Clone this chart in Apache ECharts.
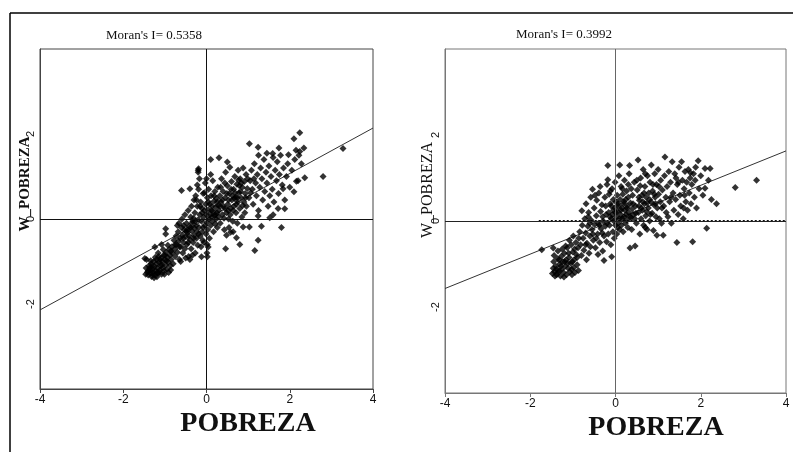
<!DOCTYPE html>
<html>
<head>
<meta charset="utf-8">
<script src="https://cdn.jsdelivr.net/npm/echarts@6/dist/echarts.min.js"></script>
<style>
html,body{margin:0;padding:0;background:#fff;}
#c{width:793px;height:452px;}
</style>
</head>
<body>
<div id="c"></div>
<script>
// ---- Data ----
const titles = ["Moran's I= 0.5358", "Moran's I= 0.3992"];
const xName = "POBREZA";
const yName = "W_POBREZA";
const xTicks = [-4, -2, 0, 2, 4];
const yTicks = [-2, 0, 2];

// Left panel points [POBREZA, W_POBREZA]
const leftPoints = [
// lower-left cluster
[-1.45,-1.15],[-1.42,-1.25],[-1.40,-1.32],[-1.38,-1.10],[-1.36,-1.20],[-1.35,-1.28],[-1.33,-1.05],[-1.32,-1.35],[-1.30,-1.18],[-1.28,-1.25],
[-1.27,-1.00],[-1.25,-1.12],[-1.24,-1.32],[-1.22,-1.22],[-1.20,-0.95],[-1.20,-1.05],[-1.18,-1.15],[-1.17,-1.28],[-1.15,-0.88],[-1.14,-1.02],
[-1.12,-1.20],[-1.10,-1.10],[-1.09,-0.92],[-1.08,-1.30],[-1.06,-1.00],[-1.05,-1.15],[-1.03,-0.85],[-1.02,-1.22],[-1.00,-0.96],[-0.98,-1.08],
[-0.97,-0.78],[-0.95,-1.18],[-0.94,-0.90],[-0.92,-1.02],[-0.90,-0.72],[-0.88,-0.85],[-0.87,-1.10],[-0.85,-0.95],[-0.83,-0.65],[-0.82,-0.80],
[-1.44,-0.95],[-1.40,-1.22],[-1.31,-1.12],[-1.26,-1.38],[-1.19,-1.36],[-1.13,-1.25],[-1.07,-1.08],[-1.01,-1.30],[-0.96,-0.98],[-0.91,-1.26],
[-1.46,-1.30],[-1.34,-0.98],[-1.23,-0.90],[-1.16,-0.80],[-1.04,-0.72],[-0.93,-0.62],[-0.86,-1.20],[-0.80,-1.05],[-1.48,-0.93],[-1.24,-0.66],
[-0.98,-0.23],[-0.98,-0.35],[-1.08,-0.60],[-0.85,-0.75],[-1.00,-0.85],[-1.12,-0.95],[-1.18,-1.25],[-1.29,-1.30],[-1.37,-1.15],
// middle-left
[-0.78,-0.50],[-0.76,-0.70],[-0.75,-0.88],[-0.73,-0.40],[-0.72,-0.60],[-0.70,-0.78],[-0.68,-0.30],[-0.67,-0.52],[-0.65,-0.95],[-0.63,-0.45],
[-0.62,-0.65],[-0.60,-0.20],[-0.58,-0.38],[-0.57,-0.80],[-0.55,-0.55],[-0.53,-0.25],[-0.52,-0.70],[-0.50,-0.42],[-0.48,-0.10],[-0.47,-0.60],
[-0.45,-0.32],[-0.43,-0.88],[-0.42,-0.18],[-0.40,-0.48],[-0.38,0.05],[-0.37,-0.70],[-0.35,-0.28],[-0.33,-0.05],[-0.32,-0.55],[-0.30,-0.38],
[-0.28,0.15],[-0.27,-0.80],[-0.25,-0.15],[-0.24,-0.45],[-0.22,0.30],[-0.21,-0.62],[-0.20,-0.02],[-0.66,-0.10],[-0.59,0.00],[-0.52,0.10],
[-0.44,0.20],[-0.36,0.30],[-0.30,0.45],[-0.26,0.55],[-0.62,-1.00],[-0.50,-0.92],[-0.40,-0.95],[-0.34,-0.85],[-0.70,-0.15],[-0.46,-0.25],
[-0.29,-0.22],[-0.23,-0.30],[-0.55,-0.15],[-0.42,-0.40],[-0.60,0.67],[-0.40,0.71],[-0.65,-0.65],[-0.56,-0.45],[-0.49,-0.30],[-0.44,-0.55],
[-0.38,-0.20],[-0.31,-0.45],[-0.19,-0.35],[-0.08,-0.20],[-0.75,-0.60],[-0.35,-0.10],[-0.31,0.02],[-0.27,-0.05],
// around the origin
[-0.18,-0.20],[-0.16,0.10],[-0.15,-0.40],[-0.14,0.40],[-0.12,-0.05],[-0.11,0.25],[-0.10,-0.30],[-0.08,0.60],[-0.07,0.05],[-0.06,-0.55],
[-0.05,0.20],[-0.04,-0.15],[-0.03,0.85],[-0.02,0.35],[-0.01,-0.35],[0.00,0.10],[0.01,-0.08],[0.02,0.50],[0.03,-0.25],[0.04,0.22],
[0.05,0.70],[0.06,0.00],[0.07,-0.45],[0.08,0.35],[0.09,0.12],[0.10,-0.15],[0.11,0.55],[0.12,0.05],[0.13,0.30],[0.14,-0.05],
[0.15,0.90],[0.16,0.18],[0.17,-0.30],[0.18,0.42],[0.19,0.08],[0.20,0.65],[0.21,-0.12],[0.22,0.28],[0.23,0.00],[0.24,0.48],
[0.25,0.15],[0.26,-0.20],[0.27,0.75],[0.28,0.32],[0.29,0.05],[-0.19,0.70],[-0.17,0.95],[-0.13,-0.65],[-0.09,-0.50],[-0.20,1.10],
[-0.19,1.18],[0.02,-0.60],[0.01,-0.80],[0.00,0.95],[-0.05,0.62],[0.10,1.05],[-0.22,0.80],[-0.24,0.45],[0.02,-0.89],[-0.12,-0.89],
[0.04,-0.66],[0.10,1.40],[0.30,1.44],[-0.20,1.15],[-0.15,0.30],[-0.10,0.15],[0.05,0.40],[0.12,0.20],[0.18,0.55],[0.22,0.10],
[0.26,0.40],
// middle-right
[0.30,0.20],[0.32,0.55],[0.33,-0.10],[0.35,0.40],[0.36,0.95],[0.38,0.10],[0.40,0.65],[0.41,0.30],[0.43,-0.25],[0.45,0.50],
[0.46,1.10],[0.48,0.15],[0.50,0.78],[0.51,0.35],[0.53,0.00],[0.55,0.60],[0.56,1.22],[0.58,0.25],[0.60,0.88],[0.61,0.45],
[0.63,-0.05],[0.65,0.70],[0.66,0.30],[0.68,1.00],[0.70,0.52],[0.71,0.15],[0.73,0.82],[0.75,0.40],[0.76,1.15],[0.78,0.62],
[0.80,0.25],[0.81,0.95],[0.83,0.50],[0.85,0.05],[0.86,0.75],[0.88,1.20],[0.90,0.40],[0.91,0.88],[0.93,0.60],[0.95,1.05],
[0.96,0.30],[0.98,0.72],[0.34,0.75],[0.44,0.85],[0.52,0.20],[0.62,0.55],[0.72,0.35],[0.82,0.65],[0.92,0.15],[0.54,-0.20],
[0.64,-0.30],[0.74,-0.10],[0.42,0.02],[0.57,0.10],[0.67,0.48],[0.77,0.92],[0.87,0.32],[0.50,1.34],[0.58,-0.31],[0.48,-0.38],
[0.46,-0.70],[0.72,-0.44],[0.80,-0.60],[0.88,-0.19],[0.33,0.30],[0.38,0.45],[0.44,0.25],[0.49,0.60],[0.53,0.45],[0.59,0.70],
[0.64,0.20],[0.69,0.62],[0.74,0.50],[0.79,0.78],[0.84,0.85],[0.94,0.50],[0.99,0.95],
// upper-right
[1.02,0.50],[1.05,0.90],[1.08,1.15],[1.10,0.70],[1.12,0.35],[1.15,1.30],[1.18,0.85],[1.20,0.55],[1.22,1.05],[1.25,0.20],
[1.28,0.75],[1.30,1.20],[1.33,0.95],[1.35,0.45],[1.38,1.40],[1.40,0.65],[1.43,1.10],[1.45,0.85],[1.48,0.30],[1.50,1.25],
[1.52,0.55],[1.55,1.00],[1.58,0.70],[1.60,1.45],[1.62,0.40],[1.65,1.15],[1.68,0.90],[1.70,1.35],[1.73,0.60],[1.75,1.05],
[1.78,1.50],[1.82,0.80],[1.85,1.20],[1.88,0.45],[1.92,1.00],[1.95,1.30],[2.00,0.75],[2.05,1.15],[2.12,1.40],[2.20,0.90],
[2.28,1.30],[1.25,1.50],[1.45,1.55],[1.60,0.10],[1.72,0.25],[2.15,1.62],[1.06,0.62],[1.14,0.95],
[2.24,2.03],[2.10,1.89],[1.03,1.77],[1.24,1.69],[1.74,1.67],[2.34,1.67],[2.24,1.59],[2.22,1.50],[1.59,1.54],[1.97,1.51],
[2.80,1.00],[2.36,0.97],[2.16,0.89],[2.10,0.64],[1.84,0.71],[1.88,0.24],[1.80,-0.20],[1.24,-0.50],[1.16,-0.74],[1.03,-0.19],
[1.32,-0.17],[1.52,0.03],[1.24,0.07],[3.28,1.66]
];

// Right panel points [POBREZA, W_POBREZA]
const rightPoints = [
// lower-left cluster
[-1.48,-1.22],[-1.46,-1.10],[-1.45,-0.95],[-1.44,-0.80],[-1.43,-1.18],[-1.40,-1.05],[-1.38,-1.25],[-1.36,-0.88],[-1.35,-0.70],[-1.33,-1.15],
[-1.31,-1.00],[-1.29,-1.28],[-1.27,-0.82],[-1.26,-1.12],[-1.24,-0.95],[-1.22,-1.20],[-1.20,-0.75],[-1.18,-1.05],[-1.16,-0.90],[-1.15,-1.25],
[-1.13,-0.62],[-1.11,-1.10],[-1.09,-0.85],[-1.07,-1.18],[-1.05,-0.98],[-1.04,-0.55],[-1.02,-1.25],[-1.00,-0.72],[-0.98,-1.08],[-0.97,-0.90],
[-0.95,-1.20],[-0.93,-0.50],[-0.92,-0.78],[-0.90,-1.02],[-0.88,-0.62],[-0.87,-1.15],[-0.86,-0.40],[-1.42,-1.28],[-1.34,-1.20],[-1.28,-1.05],
[-1.21,-1.30],[-1.12,-0.98],[-1.03,-1.12],[-0.96,-0.65],[-1.17,-0.58],[-1.08,-0.45],[-1.25,-0.65],[-1.46,-0.63],[-1.73,-0.67],[-0.99,-0.35],
[-0.90,-0.85],[-1.10,-0.75],[-1.19,-0.95],[-1.32,-0.90],[-1.39,-1.12],[-1.01,-0.95],
// middle-left
[-0.84,-0.25],[-0.82,-0.55],[-0.80,-0.80],[-0.79,0.24],[-0.78,-0.10],[-0.76,-0.40],[-0.74,-0.68],[-0.72,0.05],[-0.70,-0.28],[-0.69,0.40],
[-0.67,-0.52],[-0.65,-0.12],[-0.63,0.20],[-0.62,-0.75],[-0.60,-0.35],[-0.58,0.55],[-0.57,0.02],[-0.55,-0.20],[-0.54,0.74],[-0.52,-0.45],
[-0.50,0.30],[-0.49,-0.08],[-0.47,-0.62],[-0.45,0.12],[-0.44,0.48],[-0.42,-0.30],[-0.40,-0.05],[-0.39,0.65],[-0.37,-0.50],[-0.35,0.22],
[-0.34,-0.18],[-0.32,0.38],[-0.30,-0.70],[-0.29,0.00],[-0.27,-0.35],[-0.27,-0.92],[-0.25,0.55],[-0.24,-0.12],[-0.22,0.15],[-0.21,-0.48],
[-0.20,0.85],[-0.68,-0.90],[-0.59,-0.60],[-0.48,0.60],[-0.41,-0.78],[-0.36,0.80],[-0.31,-0.28],[-0.23,0.35],[-0.53,-0.30],[-0.64,0.10],
[-0.30,0.10],[-0.45,-0.40],[-0.38,-0.10],[-0.60,-0.05],[-0.70,-0.55],
// around the origin
[-0.18,1.29],[-0.18,0.96],[-0.17,-0.30],[-0.16,0.20],[-0.15,0.62],[-0.14,-0.10],[-0.12,0.40],[-0.11,-0.55],[-0.10,0.05],[-0.09,-0.83],
[-0.08,0.75],[-0.07,0.15],[-0.06,-0.25],[-0.05,0.50],[-0.04,0.00],[-0.03,-0.40],[-0.02,0.30],[-0.01,0.90],[0.00,-0.10],[0.01,0.45],
[0.02,0.10],[0.03,-0.30],[0.04,0.60],[0.05,0.22],[0.06,-0.05],[0.07,0.35],[0.08,1.05],[0.09,0.05],[0.10,1.30],[0.10,-0.20],
[0.11,0.50],[0.12,0.15],[0.13,0.80],[0.14,-0.10],[0.15,0.30],[0.16,0.05],[0.17,0.62],[0.18,-0.25],[0.19,0.40],[0.20,0.10],
[0.21,0.95],[0.22,0.25],[0.23,-0.05],[0.24,0.50],[0.25,0.15],[0.26,0.70],[0.27,0.02],[0.28,0.35],[0.29,-0.15],[0.30,0.55],
[0.31,0.20],[0.32,1.10],[0.33,1.29],[0.34,-0.63],[0.35,0.42],[0.36,0.08],[0.37,0.75],[0.38,-0.20],[0.39,0.28],[-0.13,0.10],
[-0.05,0.25],[0.05,-0.15],[-0.20,-0.05],[-0.10,0.35],[0.00,0.20],[0.06,0.40],[0.13,0.25],[0.20,0.45],[0.27,0.30],[0.34,0.10],
[0.16,0.75],[-0.12,0.70],[0.30,0.85],
// middle-right
[0.40,0.60],[0.42,0.15],[0.44,0.90],[0.46,-0.58],[0.47,0.35],[0.49,-0.05],[0.51,0.72],[0.53,1.42],[0.54,0.20],[0.56,0.48],
[0.57,-0.30],[0.59,1.00],[0.60,0.05],[0.62,0.60],[0.63,0.25],[0.65,1.20],[0.66,-0.10],[0.68,0.40],[0.69,0.80],[0.71,0.12],
[0.72,0.55],[0.74,-0.20],[0.75,1.05],[0.77,0.30],[0.78,0.65],[0.80,0.00],[0.81,0.90],[0.83,0.45],[0.84,1.30],[0.86,0.18],
[0.87,0.70],[0.89,-0.22],[0.90,0.38],[0.92,1.10],[0.93,0.55],[0.95,0.10],[0.96,0.85],[0.97,-0.33],[0.98,0.30],[1.00,1.20],
[1.01,0.62],[1.03,0.05],[1.05,0.45],[1.06,0.95],[1.08,-0.05],[1.10,0.72],[1.12,-0.33],[1.13,0.35],[1.15,1.05],[1.16,1.49],
[1.18,0.55],[1.19,0.20],[0.45,0.05],[0.55,0.35],[0.64,0.45],[0.73,0.22],[0.82,0.15],[0.91,0.62],[0.70,-0.15],[0.58,0.82],
[0.41,0.40],[0.48,0.18],[0.55,0.55],[0.61,0.30],[0.67,0.65],[0.74,0.42],[0.80,0.50],[0.88,0.85],[0.94,0.40],[1.02,0.80],
[1.09,0.30],[0.50,0.95],[0.70,1.10],
// upper-right
[1.21,0.80],[1.23,0.10],[1.25,1.15],[1.27,0.45],[1.29,0.90],[1.31,-0.05],[1.33,1.38],[1.35,0.65],[1.37,0.25],[1.39,1.10],
[1.41,0.50],[1.44,-0.50],[1.45,0.85],[1.47,0.15],[1.49,1.25],[1.51,0.60],[1.53,0.35],[1.55,1.38],[1.57,0.95],[1.59,0.05],
[1.61,0.75],[1.63,1.15],[1.65,0.45],[1.67,0.90],[1.69,0.25],[1.71,1.20],[1.73,0.65],[1.75,1.00],[1.77,0.40],[1.79,0.85],
[1.81,-0.48],[1.83,1.10],[1.85,0.55],[1.87,0.95],[1.90,0.30],[1.94,1.40],[1.96,0.75],[2.00,1.05],[2.05,0.60],[2.10,0.76],
[2.10,1.22],[2.14,-0.17],[2.18,0.95],[2.22,1.22],[2.25,0.50],[2.37,0.40],[2.81,0.78],[3.31,0.95],[1.42,1.00],[1.60,0.30],
[1.30,0.55],[1.48,0.90],[1.62,0.60],[1.76,1.12],[1.88,1.25]
];

// Regression lines (end points)
const leftLine = [[-4,-2.14],[4,2.14]];
const rightLine = [[-4,-1.57],[4,1.63]];
// dotted zero segment in the right panel
const rightDotted = [[-1.8,0],[4,0]];

// ---- Chart ----
const chart = echarts.init(document.getElementById('c'), null, {renderer:'canvas'});
const serif = "'Liberation Serif','Times New Roman',serif";
const sans = "'Liberation Sans',Arial,sans-serif";

function xAxisCfg(gi, col){
  return {
    gridIndex: gi, type:'value', min:xTicks[0], max:xTicks[xTicks.length-1], interval:2,
    splitLine:{show:false},
    axisLine:{show:true, onZero:false, lineStyle:{color:col, width:1}},
    axisTick:{show:true, inside:false, length:4, lineStyle:{color:col}},
    axisLabel:{show:true, margin:5, color:'#111', fontFamily:sans, fontSize:12}
  };
}
function yAxisCfg(gi, col){
  return {
    gridIndex: gi, type:'value', min:-4, max:4, interval:2,
    splitLine:{show:false},
    axisLine:{show:true, onZero:false, lineStyle:{color:col, width:1}},
    axisTick:{show:false},
    axisLabel:{show:true, rotate:90, margin:4, color:'#111', fontFamily:sans, fontSize:11,
      formatter: v => (yTicks.indexOf(v) >= 0 ? String(v) : '')}
  };
}

const option = {
  animation:false,
  backgroundColor:'#fff',
  grid:[
    {left:40, top:49, width:333, height:340, show:true, borderColor:'#444', borderWidth:1, backgroundColor:'transparent'},
    {left:445, top:49, width:341, height:344, show:true, borderColor:'#777', borderWidth:1, backgroundColor:'transparent'}
  ],
  xAxis:[xAxisCfg(0,'#444'), xAxisCfg(1,'#777')],
  yAxis:[yAxisCfg(0,'#444'), yAxisCfg(1,'#777')],
  graphic:[
    {type:'line', shape:{x1:10, y1:13, x2:793, y2:13}, style:{stroke:'#000', lineWidth:1.5}, silent:true},
    {type:'line', shape:{x1:10, y1:13, x2:10, y2:452}, style:{stroke:'#000', lineWidth:1.5}, silent:true},
    {type:'text', x:154, y:36, style:{text:titles[0], font:'13px '+serif, fill:'#111', textAlign:'center', textVerticalAlign:'middle'}},
    {type:'text', x:564, y:35, style:{text:titles[1], font:'13px '+serif, fill:'#111', textAlign:'center', textVerticalAlign:'middle'}},
    {type:'text', x:25, y:184, rotation:Math.PI/2, style:{text:yName, font:'bold 15px '+serif, fill:'#111', textAlign:'center', textVerticalAlign:'middle'}},
    {type:'text', x:428, y:190, rotation:Math.PI/2, style:{text:yName, font:'16px '+serif, fill:'#111', textAlign:'center', textVerticalAlign:'middle'}},
    {type:'text', x:248, y:424, style:{text:xName, font:'bold 28px '+serif, fill:'#111', textAlign:'center', textVerticalAlign:'middle'}},
    {type:'text', x:656, y:428, style:{text:xName, font:'bold 28px '+serif, fill:'#111', textAlign:'center', textVerticalAlign:'middle'}}
  ],
  series:[
    {type:'line', xAxisIndex:0, yAxisIndex:0, data:leftLine, symbol:'none', z:1,
      lineStyle:{color:'#333', width:1}, silent:true,
      markLine:{silent:true, symbol:'none', label:{show:false}, animation:false,
        lineStyle:{color:'#111', width:1, type:'solid'},
        data:[{xAxis:0},{yAxis:0}]}},
    {type:'scatter', xAxisIndex:0, yAxisIndex:0, data:leftPoints, symbol:'diamond', symbolSize:7, z:3,
      itemStyle:{color:'#000'}},
    {type:'line', xAxisIndex:1, yAxisIndex:1, data:rightLine, symbol:'none', z:1,
      lineStyle:{color:'#333', width:1}, silent:true,
      markLine:{silent:true, symbol:'none', label:{show:false}, animation:false,
        lineStyle:{color:'#666', width:1, type:'solid'},
        data:[{xAxis:0},{yAxis:0, lineStyle:{color:'#222'}}]}},
    {type:'line', xAxisIndex:1, yAxisIndex:1, data:rightDotted, symbol:'none', z:2,
      lineStyle:{color:'#111', width:2, type:[2,2]}, silent:true},
    {type:'scatter', xAxisIndex:1, yAxisIndex:1, data:rightPoints, symbol:'diamond', symbolSize:7, z:3,
      itemStyle:{color:'#000'}}
  ]
};
chart.setOption(option);
</script>
</body>
</html>
